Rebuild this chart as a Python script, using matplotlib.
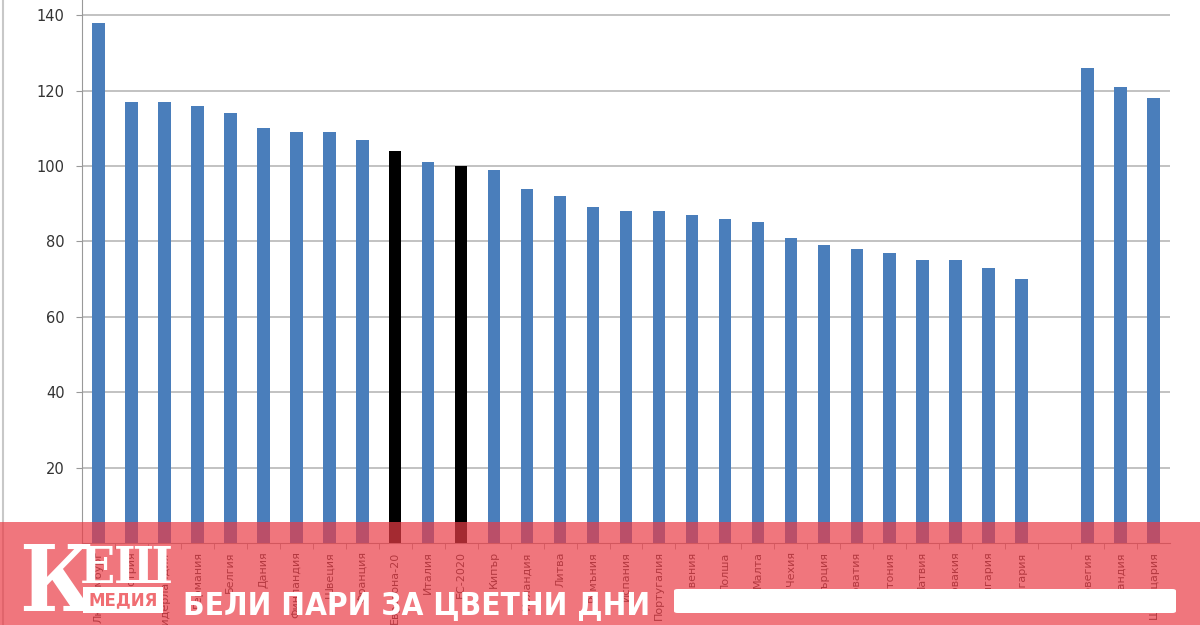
import matplotlib
matplotlib.use("Agg")
import matplotlib.pyplot as plt
from matplotlib.patches import Rectangle, FancyBboxPatch
from matplotlib.lines import Line2D

categories = ["Люксембург", "Австрия", "Нидерландия", "Германия", "Белгия", "Дания",
              "Финландия", "Швеция", "Франция", "Еврозона-20", "Италия", "ЕС-2020",
              "Кипър", "Ирландия", "Литва", "Румъния", "Испания", "Португалия",
              "Словения", "Полша", "Малта", "Чехия", "Гърция", "Хърватия", "Естония",
              "Латвия", "Словакия", "Унгария", "България", "",
              "Норвегия", "Исландия", "Швейцария"]
values = [138, 117, 117, 116, 114, 110, 109, 109, 107, 104, 101, 100,
          99, 94, 92, 89, 88, 88, 87, 86, 85, 81, 79, 78, 77,
          75, 75, 73, 70, None, 126, 121, 118]
highlight = ["Еврозона-20", "ЕС-2020"]
yticks = [20, 40, 60, 80, 100, 120, 140]

fig = plt.figure(figsize=(12, 6.25), dpi=100)
ax = fig.add_axes([82/1200, 1-543/625, (1170-82)/1200, 543/625])

xs = list(range(len(categories)))
for x, c, v in zip(xs, categories, values):
    if v is None:
        continue
    col = "#000000" if c in highlight else "#4A7EBB"
    ax.bar(x, v, width=0.38, color=col, zorder=3)

ax.set_xlim(-0.5, len(categories) - 0.5)
ax.set_ylim(0, 144)
ax.set_yticks(yticks)
ax.set_yticklabels([str(t) for t in yticks], fontsize=10.5, color="#333333")
ax.yaxis.grid(True, color="#b8b8b8", linewidth=1.2, zorder=0)
ax.tick_params(axis="y", length=4, color="#999999", pad=8.5)
ax.set_xticks(xs)
ax.set_xticklabels(categories, rotation=90, fontsize=8, color="#333333", va="top")
ax.set_xticks([x + 0.5 for x in xs[:-1]] + [-0.5], minor=True)
ax.tick_params(axis="x", which="major", length=0, pad=6)
ax.tick_params(axis="x", which="minor", length=4, color="#999999")
for s in ["top", "right"]:
    ax.spines[s].set_visible(False)
ax.spines["left"].set_color("#999999")
ax.spines["bottom"].set_color("#999999")

# outer chart frame line at far left
fig.add_artist(Line2D([3/1200, 3/1200], [0, 1], color="#c8c8c8", linewidth=1.5,
                      transform=fig.transFigure))

# bottom overlay banner
fig.add_artist(Rectangle((0, 0), 1, 103/625, transform=fig.transFigure,
                         facecolor=(235/255, 60/255, 70/255), alpha=0.7,
                         edgecolor="none", zorder=10))

# logo
fig.text(19/1200, 1-611/625, "К", fontsize=66, color="white", family="DejaVu Serif",
         fontweight="bold", fontstretch="condensed", va="baseline", ha="left", zorder=12)
fig.text(80/1200, 1-583/625, "ЕШ", fontsize=37, color="white", family="DejaVu Serif",
         fontweight="bold", fontstretch="condensed", va="baseline", ha="left", zorder=12)
fig.add_artist(Rectangle((83/1200, 1-613/625), 80/1200, 26/625, transform=fig.transFigure,
                         facecolor="white", edgecolor="none", zorder=12))
fig.text(123/1200, 1-600/625, "МЕДИЯ", fontsize=12, color=(240/255, 110/255, 115/255),
         family="DejaVu Sans", fontweight="bold", va="center", ha="center", zorder=13)
fig.text(183/1200, 1-614/625, "БЕЛИ ПАРИ ЗА ЦВЕТНИ ДНИ", fontsize=22.7, color="white",
         family="DejaVu Sans", fontweight="bold", fontstretch="condensed",
         va="baseline", ha="left", zorder=12)
fig.add_artist(FancyBboxPatch((674/1200, 1-613/625), 502/1200, 24/625,
                              boxstyle="round,pad=0,rounding_size=0.003",
                              transform=fig.transFigure, facecolor="white",
                              edgecolor="none", zorder=12))

fig.savefig("out.png", dpi=100)
